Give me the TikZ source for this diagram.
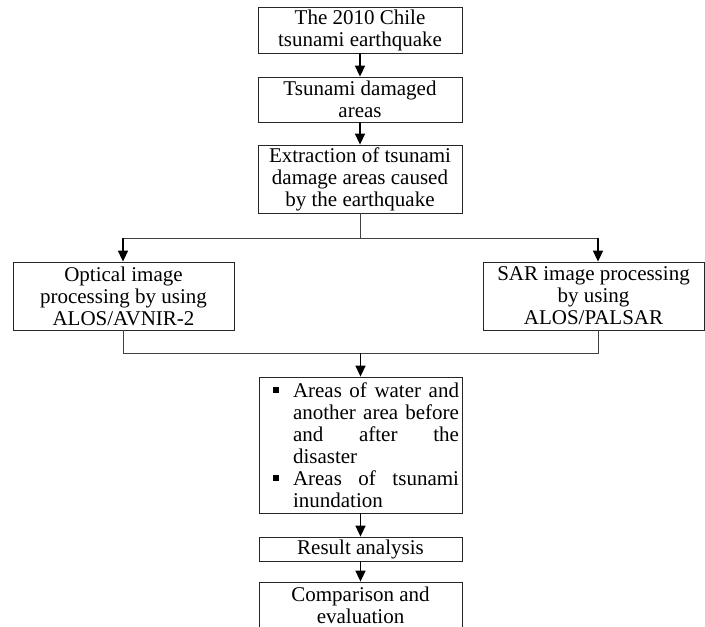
\documentclass[tikz,border=0pt]{standalone}
\usepackage{fontspec}
\setmainfont{Liberation Serif}
\usetikzlibrary{arrows.meta}

\begin{document}
\begin{tikzpicture}[x=1pt,y=-1pt,
		box/.style={draw=black!85, line width=0.8pt, inner sep=1pt, align=center,
			font=\fontsize{21}{22}\selectfont},
		link/.style={draw=black!75, line width=0.8pt},
		flow/.style={line width=1.6pt, -{Triangle[width=10pt,length=11pt]}}]
	\useasboundingbox (0,0) rectangle (705,627);
	\clip (0,0) rectangle (705,627);
	\node[box, minimum width=204, minimum height=46] (chile) at (360,30) {The 2010 Chile\\tsunami earthquake};
	\node[box, minimum width=204, minimum height=45] (damaged) at (360,99.5) {Tsunami damaged\\areas};
	\node[box, minimum width=204, minimum height=68] (extract) at (360,179) {Extraction of tsunami\\damage areas caused\\by the earthquake};
	\node[box, minimum width=221, minimum height=68] (optical) at (123.5,296) {Optical image\\processing by using\\ALOS/AVNIR-2};
	\node[box, minimum width=221, minimum height=68] (sar) at (593.5,296) {SAR image processing\\by using\\ALOS/PALSAR};
	\node[box, inner sep=0pt, minimum width=203, minimum height=136] (areas) at (360.5,445) {%
		\begin{minipage}{203pt}\hyphenpenalty=10000 \tolerance=10000
		\begin{list}{\rule[4pt]{6pt}{6pt}}{\leftmargin=31pt \labelwidth=17pt \labelsep=14pt
			\rightmargin=6pt \topsep=0pt \partopsep=0pt \itemsep=0pt \parsep=0pt}
		\item Areas of water and\linebreak another area before\linebreak and after the\linebreak disaster
		\item Areas of tsunami\linebreak inundation
		\end{list}\end{minipage}};
	\node[box, minimum width=203, minimum height=24, inner sep=0pt] (result) at (360.5,549) {Result analysis};
	\node[box, minimum width=203, minimum height=46] (compare) at (360.5,605) {Comparison and\\evaluation};
	% split and join
	\coordinate (splitL) at (123,238);
	\coordinate (splitR) at (598,238);
	\coordinate (joinL) at (123,353);
	\coordinate (joinR) at (598,353);
	\draw[flow] (chile) -- (damaged);
	\draw[flow] (damaged) -- (extract);
	\draw[link] (extract.south) -- (extract.south |- splitL);
	\draw[link] (splitL) -- (splitR);
	\draw[flow] (splitL) -- (splitL |- optical.north);
	\draw[flow] (splitR) -- (splitR |- sar.north);
	\draw[link] (splitL |- optical.south) -- (joinL) -- (joinR) -- (splitR |- sar.south);
	\draw[flow] (areas.north |- joinL) -- (areas.north);
	\draw[flow] (areas) -- (result);
	\draw[flow] (result) -- (compare);
\end{tikzpicture}
\end{document}
